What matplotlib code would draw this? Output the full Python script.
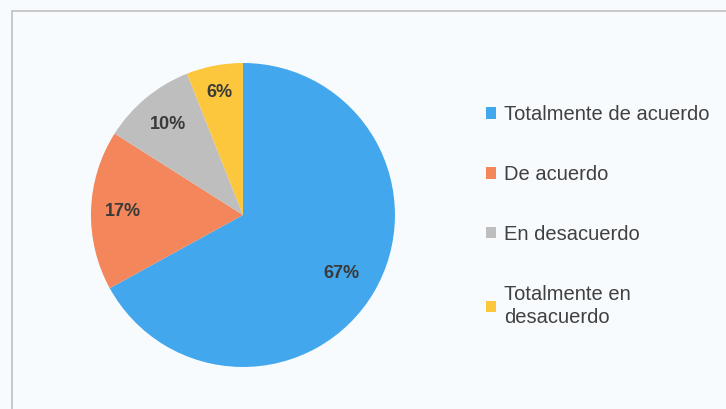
import matplotlib.pyplot as plt
from matplotlib.patches import Rectangle
import numpy as np

# Datos del gráfico
categorias = ['Totalmente de acuerdo', 'De acuerdo', 'En desacuerdo',
              'Totalmente en\ndesacuerdo']
valores = [67, 17, 10, 6]
etiquetas = ['67%', '17%', '10%', '6%']

COLORES = ['#42A7EC', '#F3865A', '#BEBEBE', '#FCC73C']
DIST_ETIQ = [0.75, 0.79, 0.77, 0.82]
FONDO = '#F8FBFE'

plt.rcParams['font.family'] = ['Liberation Sans', 'DejaVu Sans']

fig = plt.figure(figsize=(7.26, 4.09), dpi=100, facecolor=FONDO)

# marco del área del gráfico
fig.patches.append(Rectangle((12 / 726, -0.05), 1.2, 1 - 11 / 409 + 0.05,
                             transform=fig.transFigure, fill=False,
                             edgecolor='#C4C4C4', linewidth=1.3))

ax = fig.add_axes([0.1253, 0.1027, 0.4187, 0.7433])
ax.set_facecolor(FONDO)
wedges, _ = ax.pie(valores, colors=COLORES, startangle=90, counterclock=False,
                   radius=1.0, wedgeprops=dict(linewidth=0))
ax.set_xlim(-1, 1)
ax.set_ylim(-1, 1)
ax.set_aspect('equal')
ax.axis('off')

for w, txt, d in zip(wedges, etiquetas, DIST_ETIQ):
    ang = np.deg2rad((w.theta1 + w.theta2) / 2)
    ax.text(d * np.cos(ang), d * np.sin(ang), txt, ha='center', va='center',
            fontsize=13, fontweight='bold', color='#3A3A3A')

handles = [Rectangle((0, 0), 1, 1, facecolor=c, edgecolor='none') for c in COLORES]
leg = fig.legend(handles, categorias, loc='upper left',
                 bbox_to_anchor=(468 / 726, 1 - 87 / 409),
                 frameon=False, fontsize=14.5, labelspacing=2.03,
                 handlelength=0.5, handleheight=0.5, handletextpad=0.4,
                 labelcolor='#404040')
for t in leg.get_texts():
    t.set_linespacing(1.3)

fig.savefig('out.png', dpi=100, facecolor=FONDO)
